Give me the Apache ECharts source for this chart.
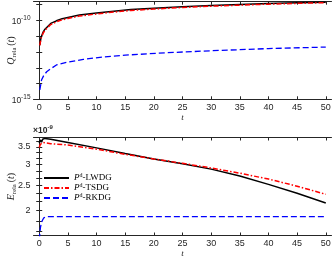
<!DOCTYPE html>
<html><head><meta charset="utf-8">
<script src="https://cdn.jsdelivr.net/npm/echarts@6/dist/echarts.min.js"></script>
<style>html,body{margin:0;padding:0;background:#fff}#c{width:332px;height:258px}</style>
</head><body><div id="c"></div>
<script>
// ---- data ----
const seriesNames = ['LWDG', 'TSDG', 'RKDG'];
const xTickValues = [0, 5, 10, 15, 20, 25, 30, 35, 40, 45, 50];
const qTickValues = [1e-15, 1e-14, 1e-13, 1e-12, 1e-11, 1e-10, 1e-9];
const qLabelValues = [1e-15, 1e-10];
const eLabelValues = [2e-9, 2.5e-9, 3e-9, 3.5e-9];
const eTickValues = [1.67e-9, 1.83e-9, 2e-9, 2.17e-9, 2.33e-9, 2.5e-9, 2.67e-9, 2.83e-9, 3e-9, 3.17e-9, 3.33e-9, 3.5e-9, 3.67e-9];

// top panel: Q_rela(t)
const tQ = [0.1, 0.3, 0.7, 1, 2, 3, 4, 5, 7, 10, 13, 16, 20, 25, 30, 35, 40, 45, 50];
const qLWDG = [2.7e-12, 8e-12, 1.9e-11, 2.8e-11, 6.5e-11, 9.5e-11, 1.3e-10, 1.55e-10, 2.2e-10, 3.0e-10, 3.9e-10, 5.0e-10, 6.0e-10, 7.5e-10, 9.0e-10, 1.03e-9, 1.18e-9, 1.32e-9, 1.44e-9];
const qTSDG = [2.6e-12, 7e-12, 1.6e-11, 2.4e-11, 5.5e-11, 8.2e-11, 1.1e-10, 1.35e-10, 1.9e-10, 2.6e-10, 3.4e-10, 4.3e-10, 5.3e-10, 6.7e-10, 8.1e-10, 9.4e-10, 1.08e-9, 1.22e-9, 1.35e-9];
const tQRK = [0.1, 0.4, 0.8, 1.3, 2, 3, 5, 7.7, 10.6, 15, 22, 30, 40, 50];
const qRKDG = [3.9e-15, 1.66e-14, 3.3e-14, 5.6e-14, 8.6e-14, 1.5e-13, 2.3e-13, 3.4e-13, 4.6e-13, 6.3e-13, 8.9e-13, 1.2e-12, 1.65e-12, 2.05e-12];

// bottom panel: E_rela(t)
const tELW = [0, 0.2, 0.4, 0.6, 1, 2, 5, 10, 15, 20, 25, 30, 35, 40, 45, 50];
const eLWDG = [3.62e-9, 3.72e-9, 3.65e-9, 3.74e-9, 3.77e-9, 3.74e-9, 3.64e-9, 3.47e-9, 3.30e-9, 3.15e-9, 3.02e-9, 2.88e-9, 2.71e-9, 2.52e-9, 2.33e-9, 2.14e-9];
const tETS = [0, 0.2, 0.4, 0.7, 1, 2, 5, 10, 15, 20, 25, 30, 35, 40, 45, 50];
const eTSDG = [3.48e-9, 3.58e-9, 3.52e-9, 3.64e-9, 3.61e-9, 3.60e-9, 3.56e-9, 3.43e-9, 3.28e-9, 3.15e-9, 3.03e-9, 2.91e-9, 2.78e-9, 2.64e-9, 2.48e-9, 2.31e-9];
const tERK = [0, 0.2, 0.4, 0.8, 1.5, 5, 10, 20, 30, 40, 50];
const eRKDG = [1.55e-9, 1.72e-9, 1.81e-9, 1.88e-9, 1.90e-9, 1.90e-9, 1.90e-9, 1.90e-9, 1.90e-9, 1.90e-9, 1.90e-9];

// ---- styling ----
const axisColor = '#262626';
const sans = 'Liberation Sans, Arial, sans-serif';
const serif = 'Liberation Serif, Times New Roman, serif';
const pairs = (ts, vs) => ts.map((t, i) => [t, vs[i]]);

function xAx(grid, pos, withLabels) {
  return {
    type: 'value', gridIndex: grid, position: pos, min: -1, max: 51,
    axisLine: { show: true, onZero: false, lineStyle: { color: axisColor, width: 1 } },
    axisTick: { show: true, inside: true, length: 3, customValues: xTickValues, lineStyle: { color: axisColor } },
    axisLabel: { show: withLabels, customValues: xTickValues, margin: 4, fontSize: 9, color: axisColor, fontFamily: sans },
    splitLine: { show: false },
    name: withLabels ? 't' : '', nameLocation: 'middle', nameGap: 14, nameMoveOverlap: false,
    nameTextStyle: { fontFamily: serif, fontStyle: 'italic', fontSize: 9, color: axisColor }
  };
}
function yAx(grid, pos, min, max, ticks, labels, fmt, rich, name) {
  return {
    type: 'log', logBase: 10, gridIndex: grid, position: pos, min: min, max: max,
    axisLine: { show: true, lineStyle: { color: axisColor, width: 1 } },
    axisTick: { show: true, inside: true, length: 3, customValues: ticks, lineStyle: { color: axisColor } },
    axisLabel: { show: !!labels, customValues: labels || undefined, margin: 3, fontSize: 9, color: axisColor, fontFamily: sans, formatter: fmt, rich: rich },
    minorTick: { show: false }, splitLine: { show: false }, minorSplitLine: { show: false },
    name: name || '', nameLocation: 'middle', nameGap: 16, nameMoveOverlap: false,
    nameTextStyle: {
      color: axisColor,
      rich: {
        q: { fontFamily: serif, fontStyle: 'italic', fontSize: 10, lineHeight: 12, color: axisColor },
        s: { fontFamily: serif, fontSize: 6.5, verticalAlign: 'bottom', color: axisColor },
        n: { fontFamily: serif, fontSize: 10, lineHeight: 12, color: axisColor }
      }
    }
  };
}
const expRich = {
  b: { fontFamily: sans, fontSize: 8.5, lineHeight: 12, verticalAlign: 'bottom', color: axisColor },
  e: { fontFamily: sans, fontSize: 6.5, verticalAlign: 'top', color: axisColor }
};
const qFmt = v => '{b|10}{e|-' + Math.round(-Math.log10(v)) + '}';
const eFmt = v => String(+(v * 1e9).toFixed(2));

const lineStyles = [
  { color: '#000000', width: 1.5, type: 'solid' },
  { color: '#ff0000', width: 1.5, type: [5, 2, 1.5, 2] },
  { color: '#0000ff', width: 1.3, type: [6, 3] }
];
function mk(name, idx, xi, yi, data) {
  return {
    name: name, type: 'line', xAxisIndex: xi, yAxisIndex: yi, data: data,
    showSymbol: false, symbol: 'none', smooth: false, clip: true,
    color: lineStyles[idx].color, lineStyle: lineStyles[idx], z: 2 + idx
  };
}

const option = {
  animation: false,
  backgroundColor: '#ffffff',
  grid: [
    { left: 33.5, right: 0.5, top: 1.7, height: 97.6, outerBoundsMode: 'none', containLabel: false },
    { left: 33.5, right: 0.5, top: 137.5, height: 98, outerBoundsMode: 'none', containLabel: false }
  ],
  xAxis: [xAx(0, 'bottom', true), xAx(0, 'top', false), xAx(1, 'bottom', true), xAx(1, 'top', false)],
  yAxis: [
    yAx(0, 'left', 1e-15, 1.55e-9, qTickValues, qLabelValues, qFmt, expRich,
      '{q|Q}{s|rela}{n|\u2009(}{q|t}{n|)}'),
    yAx(0, 'right', 1e-15, 1.55e-9, qTickValues, null, null, null, ''),
    yAx(1, 'left', 1.61e-9, 3.8e-9, eTickValues, eLabelValues, eFmt, null,
      '{q|E}{s|rela}{n|\u2009(}{q|t}{n|)}'),
    yAx(1, 'right', 1.61e-9, 3.8e-9, eTickValues, null, null, null, '')
  ],
  legend: {
    data: seriesNames, orient: 'vertical', left: 43, top: 172.5,
    itemWidth: 25, itemHeight: 9, itemGap: 0, padding: 0,
    itemStyle: { opacity: 0 },
    formatter: n => '{p|P}{s|d}{n|-' + n + '}',
    textStyle: {
      color: '#000', fontFamily: serif, fontSize: 9,
      rich: {
        p: { fontFamily: serif, fontStyle: 'italic', fontSize: 9, lineHeight: 11, color: '#000' },
        s: { fontFamily: serif, fontSize: 6, verticalAlign: 'top', color: '#000' },
        n: { fontFamily: serif, fontSize: 9, lineHeight: 11, color: '#000' }
      }
    }
  },
  title: {
    text: '{m|\u00d710}{e|-9}', left: 33, top: 124, padding: 0,
    textStyle: { rich: { m: { fontFamily: sans, fontSize: 8.5, lineHeight: 11, verticalAlign: 'bottom', color: axisColor }, e: { fontFamily: sans, fontSize: 6, verticalAlign: 'top', color: axisColor } } }
  },
  series: [
    mk('LWDG', 0, 0, 0, pairs(tQ, qLWDG)),
    mk('TSDG', 1, 0, 0, pairs(tQ, qTSDG)),
    mk('RKDG', 2, 0, 0, pairs(tQRK, qRKDG)),
    mk('LWDG', 0, 2, 2, pairs(tELW, eLWDG)),
    mk('TSDG', 1, 2, 2, pairs(tETS, eTSDG)),
    mk('RKDG', 2, 2, 2, pairs(tERK, eRKDG))
  ]
};
const chart = echarts.init(document.getElementById('c'), null, { renderer: 'canvas' });
chart.setOption(option);
</script></body></html>
